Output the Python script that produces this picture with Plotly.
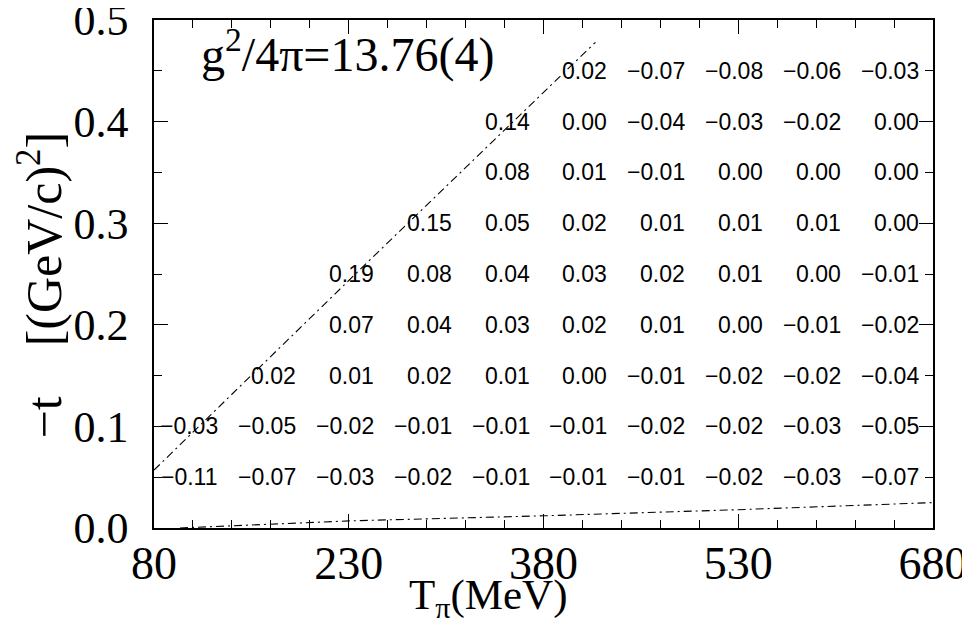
import plotly.graph_objects as go

# ---- data ----
T_cols = [110, 170, 230, 290, 350, 410, 470, 530, 590, 650]
t_rows = [0.05, 0.10, 0.15, 0.20, 0.25, 0.30, 0.35, 0.40, 0.45]
N = None
values = [
    [-0.11, -0.07, -0.03, -0.02, -0.01, -0.01, -0.01, -0.02, -0.03, -0.07],  # 0.05
    [-0.03, -0.05, -0.02, -0.01, -0.01, -0.01, -0.02, -0.02, -0.03, -0.05],  # 0.10
    [N, 0.02, 0.01, 0.02, 0.01, 0.00, -0.01, -0.02, -0.02, -0.04],           # 0.15
    [N, N, 0.07, 0.04, 0.03, 0.02, 0.01, 0.00, -0.01, -0.02],                # 0.20
    [N, N, 0.19, 0.08, 0.04, 0.03, 0.02, 0.01, 0.00, -0.01],                 # 0.25
    [N, N, N, 0.15, 0.05, 0.02, 0.01, 0.01, 0.01, 0.00],                     # 0.30
    [N, N, N, N, 0.08, 0.01, -0.01, 0.00, 0.00, 0.00],                       # 0.35
    [N, N, N, N, 0.14, 0.00, -0.04, -0.03, -0.02, 0.00],                     # 0.40
    [N, N, N, N, N, 0.02, -0.07, -0.08, -0.06, -0.03],                       # 0.45
]

upper_T = [80, 244, 420]
upper_t = [0.057, 0.261, 0.478]
lower_T = [100, 230, 380, 530, 680]
lower_t = [0.0, 0.007, 0.012, 0.018, 0.025]

x_ticks = [80, 230, 380, 530, 680]
y_ticks = [0.0, 0.1, 0.2, 0.3, 0.4, 0.5]

SERIF = "Liberation Serif"
SANS = "Liberation Sans"

fig = go.Figure()
line_style = dict(color="black", width=1.1, dash="8px,4px,2px,4px")
fig.add_trace(go.Scatter(x=upper_T, y=upper_t, mode="lines", line=line_style,
                         showlegend=False, hoverinfo="skip"))
fig.add_trace(go.Scatter(x=lower_T, y=lower_t, mode="lines", line=line_style,
                         showlegend=False, hoverinfo="skip"))

annotations = []
for t, row in zip(t_rows, values):
    for T, v in zip(T_cols, row):
        if v is None:
            continue
        s = f"{v:.2f}"
        if v < 0:
            s = "\u2212" + s[1:]
        annotations.append(dict(x=T, y=t, xref="x", yref="y", text=s,
                                showarrow=False, xanchor="right", yanchor="middle",
                                xshift=27, font=dict(family=SANS, size=23, color="black")))

annotations.append(dict(x=0.058, y=0.938, xref="paper", yref="paper",
                        text="g<sup>2</sup>/4\u03c0=13.76(4)", showarrow=False,
                        xanchor="left", yanchor="middle",
                        font=dict(family=SERIF, size=48, color="black")))
annotations.append(dict(x=0.429, y=-0.138, xref="paper", yref="paper",
                        text="T<sub>\u03c0</sub>(MeV)", showarrow=False,
                        xanchor="center", yanchor="middle",
                        font=dict(family=SERIF, size=43, color="black")))
annotations.append(dict(x=-0.146, y=0.478, xref="paper", yref="paper",
                        text="\u2212t\u2002\u2002[(GeV/c)<sup>2</sup>]", showarrow=False,
                        textangle=-90, xanchor="center", yanchor="middle",
                        font=dict(family=SERIF, size=50, color="black")))

axis_common = dict(showline=True, linecolor="black", linewidth=1.5, mirror="allticks",
                   ticks="inside", ticklen=14, tickwidth=1, tickcolor="black",
                   showgrid=False, zeroline=False, automargin=False,
                   ticklabeloverflow="allow")

# page body has an 8px default margin, so the figure is sized/offset to compensate
fig.update_layout(
    width=962, height=626,
    margin=dict(l=146, r=37, t=12, b=106),
    paper_bgcolor="white", plot_bgcolor="white",
    annotations=annotations,
    xaxis=dict(range=[80, 680], tickvals=x_ticks, ticktext=[str(v) for v in x_ticks],
               minor=dict(ticks="inside", ticklen=8, dtick=30, tick0=80, tickcolor="black"),
               ticklabelstandoff=-6,
               tickfont=dict(family=SERIF, size=46, color="black"),
               **axis_common),
    yaxis=dict(range=[0, 0.5], tickvals=y_ticks, ticktext=[f"{v:.1f}" for v in y_ticks],
               minor=dict(ticks="inside", ticklen=8, dtick=0.05, tick0=0, tickcolor="black"),
               ticklabelstandoff=15,
               tickfont=dict(family=SERIF, size=44, color="black"),
               **axis_common),
)

fig.write_html("out.html")
